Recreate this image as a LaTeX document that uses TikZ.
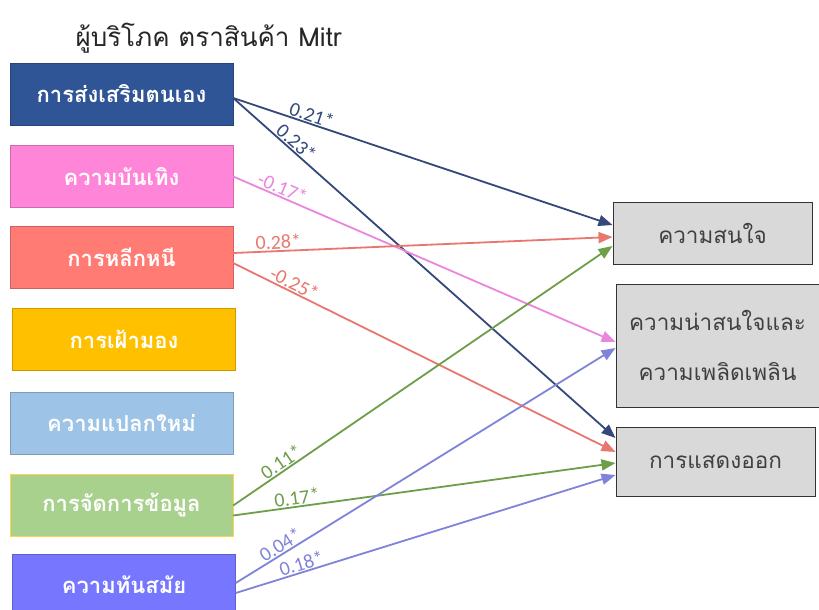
\documentclass[tikz,border=0pt]{standalone}
\usepackage{fontspec}
\newfontfamily\thai[Script=Thai]{Loma}
\newfontfamily\lab{Carlito}
\usetikzlibrary{arrows.meta}
\definecolor{cb1}{HTML}{2F5597}
\definecolor{cb2}{HTML}{FF85D8}
\definecolor{cb3}{HTML}{FF7B73}
\definecolor{cb4}{HTML}{FFC000}
\definecolor{cb5}{HTML}{9DC3E6}
\definecolor{cb6}{HTML}{A9D18E}
\definecolor{cb7}{HTML}{7676FF}
\definecolor{boxgray}{HTML}{D9D9D9}
\definecolor{ldb}{HTML}{34497A}
\definecolor{lpk}{HTML}{EA86DE}
\definecolor{lrd}{HTML}{E8776F}
\definecolor{lgr}{HTML}{6E9E4A}
\definecolor{lbl}{HTML}{7F83DA}
\begin{document}
\begin{tikzpicture}[x=1pt,y=-1pt,
  lbox/.style={draw=#1!80!black, fill=#1, minimum width=223pt, minimum height=62pt, inner sep=0pt, text=white, font=\thai\bfseries\fontsize{22}{26}\selectfont},
  rbox/.style={draw=black!80, fill=boxgray, line width=1pt, text=black!75, align=center, inner sep=0pt, font=\thai\fontsize{22.5}{50}\selectfont},
  conn/.style={line width=1.8pt, draw=#1, -{Triangle[length=14pt,width=11pt]}},
  lab/.style={font=\lab\fontsize{20}{22}\selectfont, sloped, above, inner sep=1pt}]
\clip (0,0) rectangle (819,610);
\fill[white] (0,0) rectangle (819,610);
\node[anchor=base west, font=\thai\fontsize{26}{30}\selectfont, text=black!85] (title) at (72,47) {ผู้บริโภค ตราสินค้า Mitr};
% left boxes
\node[lbox=cb1] (b1) at (121.5,94) {การส่งเสริมตนเอง};
\node[lbox=cb2] (b2) at (121.5,176.5) {ความบันเทิง};
\node[lbox=cb3] (b3) at (121.5,257) {การหลีกหนี};
\node[lbox=cb4] (b4) at (124,339) {การเฝ้ามอง};
\node[lbox=cb5] (b5) at (121.5,423) {ความแปลกใหม่};
\node[lbox=cb6, draw=cb4!70] (b6) at (121.5,505.5) {การจัดการข้อมูล};
\node[lbox=cb7] (b7) at (124,585) {ความทันสมัย};
% right boxes
\node[rbox, minimum width=199pt, minimum height=62pt] (r1) at (712.5,233) {ความสนใจ};
\node[rbox, minimum width=203pt, minimum height=123pt] (r2) at (717.5,345.5) {ความน่าสนใจและ\\ความเพลิดเพลิน};
\node[rbox, minimum width=199pt, minimum height=69pt] (r3) at (715.5,462) {การแสดงออก};
% connectors
\draw[conn=ldb] ([yshift=-4pt]b1.east) -- node[lab,pos=0.2,text=ldb]{0.21*} ([yshift=8pt]r1.west);
\draw[conn=ldb] ([yshift=-4pt]b1.east) -- node[lab,pos=0.15,text=ldb]{0.23*} ([yshift=24pt]r3.west);
\draw[conn=lpk] (b2.east) -- node[lab,pos=0.12,text=lpk]{-0.17*} ([yshift=3.5pt]r2.west);
\draw[conn=lrd] ([yshift=4pt]b3.east) -- node[lab,pos=0.12,text=lrd]{0.28*} ([yshift=-4pt]r1.west);
\draw[conn=lrd] ([yshift=-6pt]b3.east) -- node[lab,pos=0.15,text=lrd]{-0.25*} ([yshift=10pt]r3.west);
\draw[conn=lgr] (b6.east) -- node[lab,pos=0.14,text=lgr]{0.11*} ([yshift=-13pt]r1.west);
\draw[conn=lgr] ([yshift=-10pt]b6.east) -- node[lab,pos=0.17,text=lgr]{0.17*} ([yshift=-1pt]r3.west);
\draw[conn=lbl] ([yshift=2pt]b7.east) -- node[lab,pos=0.13,text=lbl]{0.04*} ([yshift=-2.5pt]r2.west);
\draw[conn=lbl] ([yshift=-8pt]b7.east) -- node[lab,pos=0.18,text=lbl]{0.18*} ([yshift=-13pt]r3.west);
\end{tikzpicture}
\end{document}
